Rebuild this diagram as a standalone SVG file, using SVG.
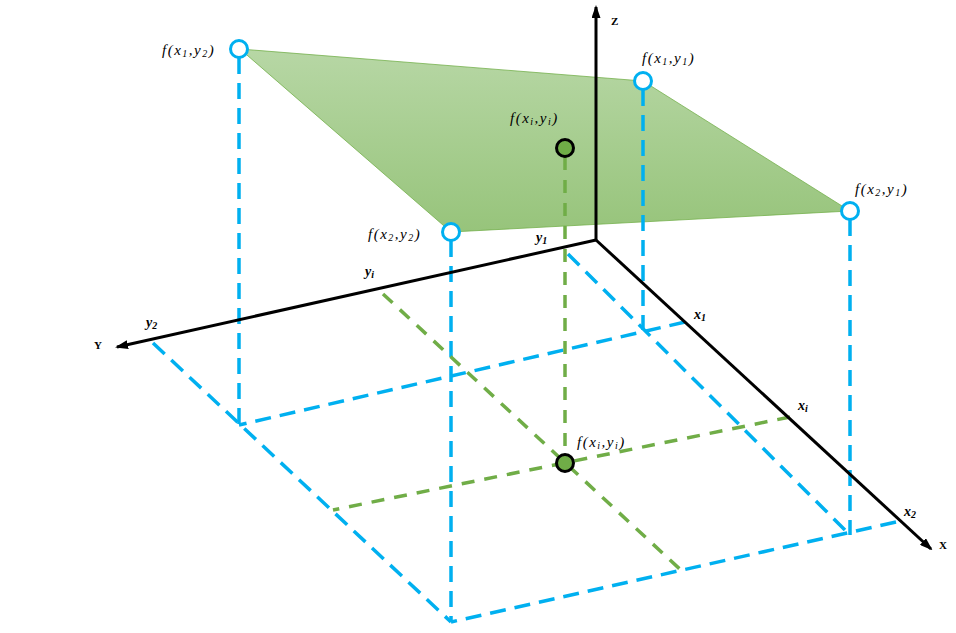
<svg xmlns="http://www.w3.org/2000/svg" width="956" height="633" viewBox="0 0 956 633">
<defs>
<linearGradient id="plane" x1="0" y1="0" x2="0" y2="1">
<stop offset="0" stop-color="#b7d7a5"/>
<stop offset="1" stop-color="#97c47b"/>
</linearGradient>
<marker id="arr" markerWidth="13" markerHeight="9" refX="11" refY="4.5" orient="auto" markerUnits="userSpaceOnUse">
<path d="M0,0 L13,4.5 L0,9 Z" fill="#000"/>
</marker>
</defs>
<style>
.axis{stroke:#000;stroke-width:3;fill:none}
.bd{stroke:#00b0f0;stroke-width:3.5;stroke-dasharray:16 9;fill:none}
.gd{stroke:#70ad47;stroke-width:3.5;stroke-dasharray:13 10;fill:none}
.bc{fill:#fff;stroke:#00b0f0;stroke-width:3}
.gc{fill:#70ad47;stroke:#000;stroke-width:3}
.lab{font-family:"Liberation Serif",serif;font-style:italic;font-size:15px;letter-spacing:1.5px;fill:#000}
.sub{font-size:10px}
.tick{font-family:"Liberation Serif",serif;font-style:italic;font-weight:bold;font-size:14px;fill:#000}
.ax{font-family:"Liberation Serif",serif;font-weight:bold;font-size:11px;fill:#000}
</style>
<rect width="956" height="633" fill="#fff"/>
<g id="plane-surface">
<polygon points="240,49 643,81 850,211 451,232" fill="url(#plane)" stroke="#70ad47" stroke-width="0.75"/>
</g>
<g id="connectors">
<line class="bd" x1="239" y1="58" x2="239" y2="425"/>
<line class="bd" x1="643" y1="90" x2="643" y2="330"/>
<line class="bd" x1="850" y1="220" x2="850" y2="535"/>
<line class="bd" x1="451" y1="241" x2="451" y2="622"/>
<line class="bd" x1="153" y1="343" x2="451" y2="622"/>
<line class="bd" x1="568" y1="254" x2="850" y2="535"/>
<line class="bd" x1="685" y1="322" x2="239" y2="425"/>
<line class="bd" x1="896" y1="522" x2="451" y2="622"/>
<line class="gd" x1="565" y1="157" x2="565" y2="454"/>
<line class="gd" x1="383" y1="294" x2="683" y2="572"/>
<line class="gd" x1="790" y1="417" x2="333" y2="510"/>
<line class="axis" x1="596" y1="240" x2="596" y2="7" marker-end="url(#arr)"/>
<line class="axis" x1="596" y1="240" x2="117" y2="347" marker-end="url(#arr)"/>
<line class="axis" x1="596" y1="240" x2="931" y2="549" marker-end="url(#arr)"/>
</g>
<g id="axis-labels">
<text class="ax" x="611" y="25">Z</text>
<text class="ax" x="94" y="349">Y</text>
<text class="ax" x="939" y="549">X</text>
<text class="tick" x="536" y="242">y<tspan class="sub" dy="2">1</tspan></text>
<text class="tick" x="365" y="276">y<tspan class="sub" dy="2">i</tspan></text>
<text class="tick" x="146" y="327">y<tspan class="sub" dy="2">2</tspan></text>
<text class="tick" x="694" y="319">x<tspan class="sub" dy="2">1</tspan></text>
<text class="tick" x="798" y="410">x<tspan class="sub" dy="2">i</tspan></text>
<text class="tick" x="904" y="516">x<tspan class="sub" dy="2">2</tspan></text>
</g>
<g id="node-x1y2">
<circle class="bc" cx="239" cy="49" r="8.5"/>
<text class="lab" x="162" y="55">f(x<tspan class="sub" dy="2">1</tspan><tspan dy="-2">,y</tspan><tspan class="sub" dy="2">2</tspan><tspan dy="-2">)</tspan></text>
</g>
<g id="node-x1y1">
<circle class="bc" cx="643" cy="81" r="8.5"/>
<text class="lab" x="642" y="63">f(x<tspan class="sub" dy="2">1</tspan><tspan dy="-2">,y</tspan><tspan class="sub" dy="2">1</tspan><tspan dy="-2">)</tspan></text>
</g>
<g id="node-x2y1">
<circle class="bc" cx="850" cy="211" r="8.5"/>
<text class="lab" x="855" y="194">f(x<tspan class="sub" dy="2">2</tspan><tspan dy="-2">,y</tspan><tspan class="sub" dy="2">1</tspan><tspan dy="-2">)</tspan></text>
</g>
<g id="node-x2y2">
<circle class="bc" cx="451" cy="232" r="8.5"/>
<text class="lab" x="368" y="239">f(x<tspan class="sub" dy="2">2</tspan><tspan dy="-2">,y</tspan><tspan class="sub" dy="2">2</tspan><tspan dy="-2">)</tspan></text>
</g>
<g id="node-xiyi-top">
<circle class="gc" cx="565" cy="148" r="8.5"/>
<text class="lab" x="510" y="123">f(x<tspan class="sub" dy="2">i</tspan><tspan dy="-2">,y</tspan><tspan class="sub" dy="2">i</tspan><tspan dy="-2">)</tspan></text>
</g>
<g id="node-xiyi-bottom">
<circle class="gc" cx="565" cy="463" r="8.5"/>
<text class="lab" x="577" y="447">f(x<tspan class="sub" dy="2">i</tspan><tspan dy="-2">,y</tspan><tspan class="sub" dy="2">i</tspan><tspan dy="-2">)</tspan></text>
</g>
</svg>
